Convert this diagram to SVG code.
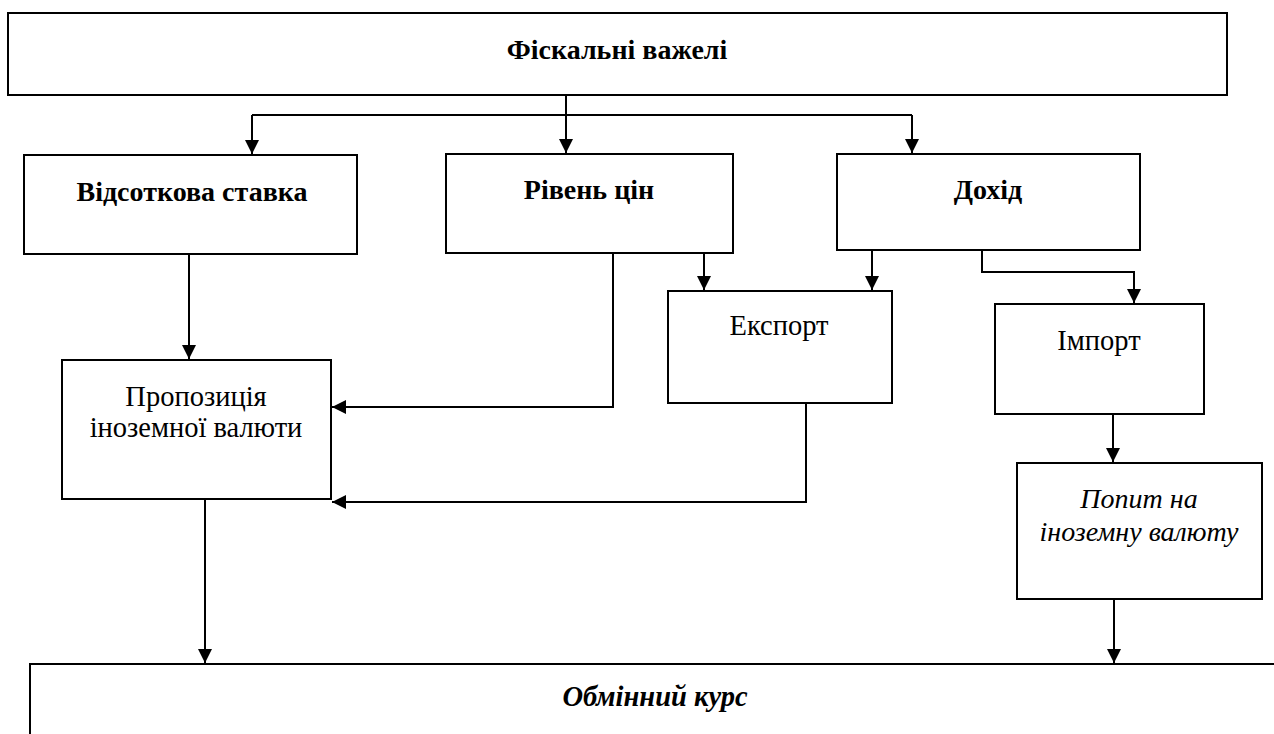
<svg xmlns="http://www.w3.org/2000/svg" width="1274" height="734" viewBox="0 0 1274 734">
  <style>
    .box { fill: #ffffff; stroke: #000000; stroke-width: 2; }
    .conn { fill: none; stroke: #000000; stroke-width: 2; }
    .t { font-family: "Liberation Serif", "DejaVu Serif", serif; fill: #000000; text-anchor: middle; }
    .b { font-weight: bold; font-size: 28px; }
    .r { font-size: 28.5px; }
    .i { font-style: italic; font-size: 28px; }
    .bi { font-weight: bold; font-style: italic; font-size: 28.5px; }
  </style>
  <defs>
    <marker id="arr" viewBox="0 0 14 14" refX="14" refY="7" markerWidth="14" markerHeight="14" markerUnits="userSpaceOnUse" orient="auto">
      <path d="M0,0 L14,7 L0,14 z" fill="#000000"/>
    </marker>
  </defs>
  <rect width="1274" height="734" fill="#ffffff"/>

  <g id="connectors">
    <path class="conn" d="M566,95 V115"/>
    <path class="conn" d="M252,115 H912"/>
    <path class="conn" d="M252,115 V154" marker-end="url(#arr)"/>
    <path class="conn" d="M566,115 V153" marker-end="url(#arr)"/>
    <path class="conn" d="M912,115 V153" marker-end="url(#arr)"/>
    <path class="conn" d="M189,254 V359" marker-end="url(#arr)"/>
    <path class="conn" d="M613,253 V407 H332" marker-end="url(#arr)"/>
    <path class="conn" d="M704,253 V290" marker-end="url(#arr)"/>
    <path class="conn" d="M872,250 V290" marker-end="url(#arr)"/>
    <path class="conn" d="M982,250 V272 H1134 V303" marker-end="url(#arr)"/>
    <path class="conn" d="M806,403 V502 H332" marker-end="url(#arr)"/>
    <path class="conn" d="M1113,414 V462" marker-end="url(#arr)"/>
    <path class="conn" d="M205,499 V663" marker-end="url(#arr)"/>
    <path class="conn" d="M1114,599 V663" marker-end="url(#arr)"/>
  </g>

  <g id="fiscal">
    <rect class="box" x="8" y="13" width="1219" height="82"/>
    <text class="t b" x="617" y="59">Фіскальні важелі</text>
  </g>
  <g id="interest">
    <rect class="box" x="24" y="155" width="333" height="99"/>
    <text class="t b" x="192" y="201">Відсоткова ставка</text>
  </g>
  <g id="prices">
    <rect class="box" x="446" y="154" width="287" height="99"/>
    <text class="t b" x="589" y="199">Рівень цін</text>
  </g>
  <g id="income">
    <rect class="box" x="837" y="154" width="303" height="96"/>
    <text class="t b" x="988" y="199">Дохід</text>
  </g>
  <g id="export">
    <rect class="box" x="668" y="291" width="224" height="112"/>
    <text class="t r" x="779" y="335">Експорт</text>
  </g>
  <g id="import">
    <rect class="box" x="995" y="304" width="209" height="110"/>
    <text class="t r" x="1099" y="350">Імпорт</text>
  </g>
  <g id="supply">
    <rect class="box" x="62" y="360" width="269" height="139"/>
    <text class="t r" x="196" y="406">Пропозиція</text>
    <text class="t r" x="196" y="437">іноземної валюти</text>
  </g>
  <g id="demand">
    <rect class="box" x="1017" y="463" width="245" height="136"/>
    <text class="t i" x="1139" y="508">Попит на</text>
    <text class="t i" x="1139" y="541">іноземну валюту</text>
  </g>
  <g id="rate">
    <rect class="box" x="30" y="664" width="1260" height="100"/>
    <text class="t bi" x="655" y="706">Обмінний курс</text>
  </g>
</svg>
